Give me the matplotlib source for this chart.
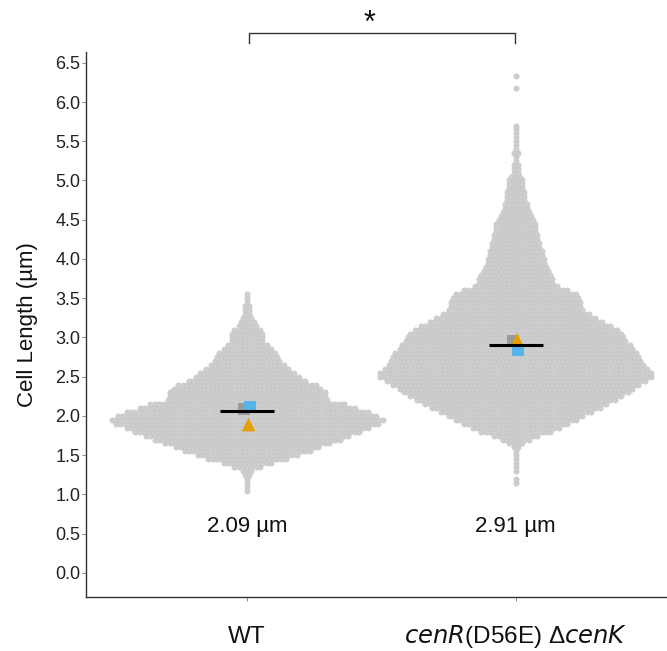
import numpy as np
import matplotlib
matplotlib.use("Agg")
import matplotlib.pyplot as plt

plt.rcParams['font.family'] = ['Liberation Sans', 'DejaVu Sans']

# ---------------- data ----------------
categories = ["WT", "cenR(D56E) ΔcenK"]

# beeswarm rows: number of cells in each 0.05 µm row
wt_row_start = 1.05
wt_row_counts = [1, 1, 1, 1, 2, 3, 7, 12, 19, 24, 30, 34, 39, 44, 48, 53, 57, 62, 64, 61,
                 57, 51, 46, 38, 37, 37, 35, 33, 28, 25, 23, 20, 18, 16, 15, 14, 12, 10, 8, 8,
                 8, 7, 5, 4, 3, 2, 2, 2, 1, 1, 1]

mut_row_start = 1.15
mut_row_counts = [1, 1, 0, 1, 1, 1, 1, 1, 1, 2, 4, 7, 11, 17, 21, 25, 29, 32, 36, 40,
                  43, 47, 50, 53, 55, 58, 61, 64, 64, 62, 60, 59, 58, 57, 55, 54, 52, 51, 50, 48,
                  45, 41, 38, 35, 32, 31, 31, 30, 29, 25, 20, 18, 18, 17, 16, 15, 14, 14, 13, 13,
                  12, 12, 11, 11, 10, 10, 10, 9, 8, 7, 6, 6, 5, 5, 5, 4, 4, 4, 3, 2,
                  2, 2, 1, 1, 2, 1, 1, 1, 1, 1, 1, 1]
mut_outliers = [6.18, 6.33]

row_step = 0.05

medians = [2.06, 2.91]
rep_square = [2.11, 2.84]     # replicate 1 (blue)
rep_triangle = [1.89, 2.97]   # replicate 2 (orange)
rep_grey = [2.09, 2.95]       # replicate 3 (grey)
mean_labels = ["2.09 µm", "2.91 µm"]
significance = "*"

# ---------------- figure ----------------
W, H = 6.67, 6.51
fig = plt.figure(figsize=(W, H), dpi=100)
ax_l, ax_b, ax_w, ax_h = 86 / 667, 1 - 597 / 651, (667 - 86) / 667, (597 - 52) / 651
ax = fig.add_axes([ax_l, ax_b, ax_w, ax_h])
xlim = (-0.6, 1.563)
ylim = (-0.306, 6.637)
ax.set_xlim(*xlim)
ax.set_ylim(*ylim)

dx_px = 4.3
dx = dx_px * (xlim[1] - xlim[0]) / (ax_w * W * 100)

dot_color = "#cecece"


def swarm(xc, start, counts, extra=()):
    xs, ys = [], []
    for i, n in enumerate(counts):
        v = start + i * row_step
        offs = (np.arange(n) - (n - 1) / 2.0) * dx
        xs.extend(xc + offs)
        ys.extend([v] * n)
    for v in extra:
        xs.append(xc)
        ys.append(v)
    ax.scatter(xs, ys, s=15, color=dot_color, edgecolors="#c2c2c2", linewidths=0.3, zorder=2)


swarm(0, wt_row_start, wt_row_counts)
swarm(1, mut_row_start, mut_row_counts, mut_outliers)

xpos = np.arange(len(categories))
ax.scatter(xpos - 0.012, rep_grey, marker="s", s=75, color="#9a9a9a", edgecolors="none", zorder=3)
ax.scatter(xpos + 0.01, rep_square, marker="s", s=75, color="#56b4e9", edgecolors="none", zorder=4)
ax.scatter(xpos + 0.005, rep_triangle, marker="^", s=95, color="#e69f00", edgecolors="none", zorder=4)
for x, m in zip(xpos, medians):
    ax.plot([x - 0.1, x + 0.1], [m, m], color="black", lw=2.2, zorder=5, solid_capstyle="butt")

for x, t in zip(xpos, mean_labels):
    ax.text(x, 0.59, t, ha="center", va="center", fontsize=16, color="#111111")

# significance bracket
ax.plot([0.007, 0.007, 0.997, 0.997], [6.75, 6.88, 6.88, 6.75], color="#333333", lw=1.0,
        clip_on=False)
ax.text(0.454, 7.0, significance, ha="center", va="center", fontsize=22, color="#111111",
        clip_on=False)

# axes styling
for s in ["top", "right"]:
    ax.spines[s].set_visible(False)
for s in ["left", "bottom"]:
    ax.spines[s].set_color("#333333")
    ax.spines[s].set_linewidth(1.0)

yt = np.arange(0, 6.51, 0.5)
ax.set_yticks(yt)
ax.set_yticklabels([f"{v:.1f}" for v in yt])
ax.tick_params(axis="y", length=3, width=0.6, color="#777777", pad=1, labelsize=13,
               labelcolor="#222222")
ax.set_xticks(xpos)
ax.set_xticklabels([])
ax.tick_params(axis="x", length=3, width=0.6, color="#777777")

ax.text(0, -0.81, "WT", ha="center", va="center", fontsize=17.5, color="#111111")
ax.text(1, -0.81, r"$\it{cenR}$(D56E) Δ$\it{cenK}$", ha="center", va="center", fontsize=17.5,
        color="#111111")

ax.set_ylabel("Cell Length (µm)", fontsize=16, color="#111111")
ax.yaxis.set_label_coords(-(86 - 38) / (ax_w * 667), 0.5)

fig.savefig("out.png", dpi=100)
